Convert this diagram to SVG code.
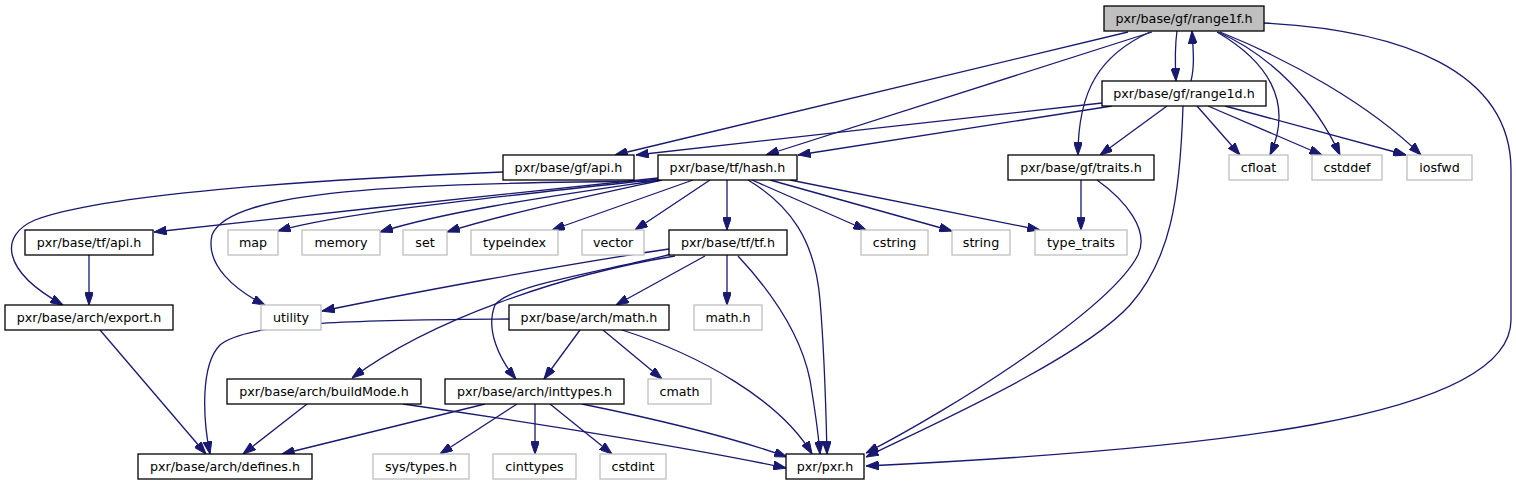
<svg xmlns="http://www.w3.org/2000/svg" width="1516" height="485" viewBox="0 0 1516 485">
<defs>
<marker id="ah" viewBox="0 0 10 7" markerWidth="12.7" markerHeight="8.9" refX="10" refY="3.5" orient="auto" markerUnits="userSpaceOnUse">
<path d="M0,0 L10,3.5 L0,7 Z" fill="#191970" stroke="#191970" stroke-width="0.8"/>
</marker>
<style>
.n rect{fill:#fff;stroke:#000;stroke-width:1.3}
.g rect{fill:#fff;stroke:#bfbfbf;stroke-width:1.3}
.m rect{fill:#bfbfbf;stroke:#000;stroke-width:1.3}
text{font-family:"DejaVu Sans","Liberation Sans",sans-serif;font-size:12.7px;text-anchor:middle;fill:#000}
#edges path{fill:none;stroke:#191970;stroke-width:1.3;marker-end:url(#ah)}
</style>
</defs>
<rect width="1516" height="485" fill="#fff"/>
<g id="edges">
<path d="M1177,31 C1175,45 1175,62 1176,81"/>
<path d="M1191,81 C1195,65 1193,48 1192,31"/>
<path d="M1128,32 L615,155"/>
<path d="M1102,103 L636,155"/>
<path d="M1152,32 L766,155"/>
<path d="M1112,106 L798,155"/>
<path d="M1150,32 C1100,55 1078,90 1078,155"/>
<path d="M1167,106 L1100,155"/>
<path d="M1217,32 C1265,60 1295,100 1270,155"/>
<path d="M1197,106 L1240,155"/>
<path d="M1218,32 C1270,55 1315,100 1340,155"/>
<path d="M1208,106 L1322,155"/>
<path d="M1220,32 C1290,60 1370,105 1421,155"/>
<path d="M1225,106 L1406,155"/>
<path d="M1264,23 C1400,30 1511,70 1511,170 L1511,320 C1511,420 1200,450 866,466"/>
<path d="M1183,106 C1180,200 1170,260 1130,305 C1080,360 920,430 866,457"/>
<path d="M1097,180 C1125,200 1150,230 1138,255 C1110,310 950,410 866,453"/>
<path d="M1081,180 L1081,230"/>
<path d="M503,172 C300,180 100,195 35,220 C0,235 0,270 63,305"/>
<path d="M658,178 C550,190 300,215 154,232"/>
<path d="M658,179 C550,192 350,210 278,231"/>
<path d="M660,180 C560,195 450,210 380,232"/>
<path d="M662,180 C580,198 500,215 447,232"/>
<path d="M693,180 L552,230"/>
<path d="M710,180 L635,230"/>
<path d="M727,180 L727,230"/>
<path d="M658,181 C400,183 230,190 212,235 C205,265 235,290 265,305"/>
<path d="M752,180 L866,230"/>
<path d="M770,180 L952,231"/>
<path d="M790,180 L1040,230"/>
<path d="M748,180 C790,205 815,240 820,300 C825,360 826,410 827,454"/>
<path d="M669,249 C560,265 400,295 322,311"/>
<path d="M675,256 C560,275 430,320 352,378"/>
<path d="M705,256 L616,305"/>
<path d="M672,254 C600,272 510,285 495,305 C485,330 500,360 516,379"/>
<path d="M727,255 L727,305"/>
<path d="M738,256 C765,285 800,330 810,380 C815,410 818,430 820,454"/>
<path d="M89,255 L89,305"/>
<path d="M100,330 L206,454"/>
<path d="M509,319 C380,320 250,320 220,345 C200,365 203,420 210,454"/>
<path d="M580,330 L544,379"/>
<path d="M603,330 L662,379"/>
<path d="M622,330 C700,355 780,400 812,454"/>
<path d="M307,404 L243,454"/>
<path d="M403,404 C550,425 700,450 786,468"/>
<path d="M485,404 L282,454"/>
<path d="M517,404 L440,454"/>
<path d="M535,404 L535,454"/>
<path d="M550,404 L612,454"/>
<path d="M582,404 C660,420 740,440 787,457"/>
</g>
<g id="range1f" class="m"><rect x="1104" y="6" width="160" height="25"/><text x="1184" y="23">pxr/base/gf/range1f.h</text></g>
<g id="range1d" class="n"><rect x="1102" y="81" width="164" height="25"/><text x="1184" y="98">pxr/base/gf/range1d.h</text></g>
<g id="gfapi" class="n"><rect x="503" y="155" width="131" height="25"/><text x="568.5" y="172">pxr/base/gf/api.h</text></g>
<g id="tfhash" class="n"><rect x="658" y="155" width="139" height="25"/><text x="727.5" y="172">pxr/base/tf/hash.h</text></g>
<g id="traits" class="n"><rect x="1008" y="155" width="146" height="25"/><text x="1081" y="172">pxr/base/gf/traits.h</text></g>
<g id="cfloat" class="g"><rect x="1229" y="155" width="59" height="25"/><text x="1258.5" y="172">cfloat</text></g>
<g id="cstddef" class="g"><rect x="1312" y="155" width="70" height="25"/><text x="1347" y="172">cstddef</text></g>
<g id="iosfwd" class="g"><rect x="1407" y="155" width="65" height="25"/><text x="1439.5" y="172">iosfwd</text></g>
<g id="tfapi" class="n"><rect x="25" y="230" width="128" height="25"/><text x="89" y="247">pxr/base/tf/api.h</text></g>
<g id="map" class="g"><rect x="228" y="230" width="50" height="25"/><text x="253" y="247">map</text></g>
<g id="memory" class="g"><rect x="302" y="230" width="78" height="25"/><text x="341" y="247">memory</text></g>
<g id="set" class="g"><rect x="403" y="230" width="44" height="25"/><text x="425" y="247">set</text></g>
<g id="typeindex" class="g"><rect x="471" y="230" width="87" height="25"/><text x="514.5" y="247">typeindex</text></g>
<g id="vector" class="g"><rect x="582" y="230" width="62" height="25"/><text x="613" y="247">vector</text></g>
<g id="tftf" class="n"><rect x="669" y="230" width="118" height="25"/><text x="728" y="247">pxr/base/tf/tf.h</text></g>
<g id="cstring" class="g"><rect x="861" y="230" width="67" height="25"/><text x="894.5" y="247">cstring</text></g>
<g id="string" class="g"><rect x="952" y="230" width="58" height="25"/><text x="981" y="247">string</text></g>
<g id="type_traits" class="g"><rect x="1035" y="230" width="92" height="25"/><text x="1081" y="247">type_traits</text></g>
<g id="export" class="n"><rect x="5" y="305" width="168" height="25"/><text x="89" y="322">pxr/base/arch/export.h</text></g>
<g id="utility" class="g"><rect x="261" y="305" width="60" height="25"/><text x="291" y="322">utility</text></g>
<g id="archmath" class="n"><rect x="509" y="305" width="160" height="25"/><text x="589" y="322">pxr/base/arch/math.h</text></g>
<g id="mathh" class="g"><rect x="694" y="305" width="68" height="25"/><text x="728" y="322">math.h</text></g>
<g id="buildMode" class="n"><rect x="227" y="379" width="194" height="25"/><text x="324" y="396">pxr/base/arch/buildMode.h</text></g>
<g id="inttypes" class="n"><rect x="445" y="379" width="179" height="25"/><text x="534.5" y="396">pxr/base/arch/inttypes.h</text></g>
<g id="cmath" class="g"><rect x="648" y="379" width="63" height="25"/><text x="679.5" y="396">cmath</text></g>
<g id="defines" class="n"><rect x="138" y="454" width="174" height="25"/><text x="225" y="471">pxr/base/arch/defines.h</text></g>
<g id="systypes" class="g"><rect x="373" y="454" width="96" height="25"/><text x="421" y="471">sys/types.h</text></g>
<g id="cinttypes" class="g"><rect x="493" y="454" width="83" height="25"/><text x="534.5" y="471">cinttypes</text></g>
<g id="cstdint" class="g"><rect x="600" y="454" width="66" height="25"/><text x="633" y="471">cstdint</text></g>
<g id="pxr" class="n"><rect x="786" y="454" width="78" height="25"/><text x="825" y="471">pxr/pxr.h</text></g>
</svg>
